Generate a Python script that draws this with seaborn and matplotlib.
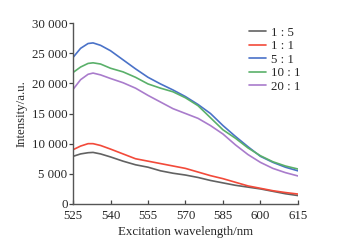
# %% IMPORTS
import matplotlib
matplotlib.use("Agg")
import matplotlib.pyplot as plt
import pandas as pd
import seaborn as sns

# %% DATA
wavelengths = [525, 528, 531, 533, 536, 540, 545, 550, 555, 560, 565, 570,
               575, 580, 585, 590, 595, 600, 605, 610, 615]
ratios = ["1 : 5", "1 : 1", "5 : 1", "10 : 1", "20 : 1"]
int_1_5 = [7900, 8300, 8500, 8550, 8300, 7800, 7100, 6500, 6100, 5500, 5100,
           4800, 4400, 3900, 3500, 3100, 2800, 2500, 2100, 1700, 1400]
int_1_1 = [9000, 9600, 10000, 10000, 9700, 9100, 8300, 7500, 7100, 6700, 6300,
           5900, 5300, 4700, 4200, 3600, 3000, 2600, 2200, 1900, 1650]
int_5_1 = [24300, 25800, 26600, 26700, 26300, 25400, 23900, 22400, 21000, 19900,
           18900, 17800, 16500, 15000, 13000, 11200, 9500, 7900, 6900, 6100, 5500]
int_10_1 = [21800, 22700, 23300, 23400, 23200, 22500, 21900, 21000, 19900, 19200,
            18600, 17600, 16300, 14300, 12300, 10900, 9300, 8000, 7000, 6300, 5800]
int_20_1 = [19000, 20600, 21500, 21700, 21400, 20800, 20100, 19200, 18000, 16900,
            15800, 15000, 14200, 13000, 11600, 9800, 8200, 6900, 5900, 5200, 4650]
colors = ["#626262", "#f24a3a", "#4a72c8", "#5ab06a", "#a97ccc"]

df = pd.DataFrame({
    "wavelength": wavelengths * len(ratios),
    "intensity": int_1_5 + int_1_1 + int_5_1 + int_10_1 + int_20_1,
    "ratio": [r for r in ratios for _ in wavelengths],
})

# %% PLOT
sns.set_style("ticks")
plt.rcParams["font.family"] = ["Liberation Serif", "DejaVu Serif"]
plt.rcParams["font.size"] = 9.3

fig = plt.figure(figsize=(3.48, 2.5), dpi=100)
ax = fig.add_axes([0.21, 0.184, 0.646, 0.724])
sns.lineplot(data=df, x="wavelength", y="intensity", hue="ratio",
             hue_order=ratios, palette=colors, linewidth=1.2, ax=ax)

ax.set_xlim(525, 615)
ax.set_ylim(0, 30000)
ax.set_xticks(range(525, 616, 15))
ax.set_yticks(range(0, 30001, 5000))
ax.set_yticklabels([f"{v:,}".replace(",", " ") for v in range(0, 30001, 5000)])
ax.tick_params(axis="x", direction="in", length=3, width=0.9, color="#444444", pad=4)
ax.tick_params(axis="y", direction="out", length=3, width=0.9, color="#444444", pad=1)
for side in ["left", "bottom"]:
    ax.spines[side].set_color("#555555")
    ax.spines[side].set_linewidth(1.0)
sns.despine(ax=ax)

ax.set_xlabel("Excitation wavelength/nm", labelpad=3)
ax.set_ylabel("Intensity/a.u.", labelpad=3)

leg = ax.legend(loc="upper right", bbox_to_anchor=(1.065, 1.045), frameon=False,
                handlelength=1.35, handletextpad=0.4, labelspacing=0.12, fontsize=9.3)

fig.savefig("out.png", dpi=100)
